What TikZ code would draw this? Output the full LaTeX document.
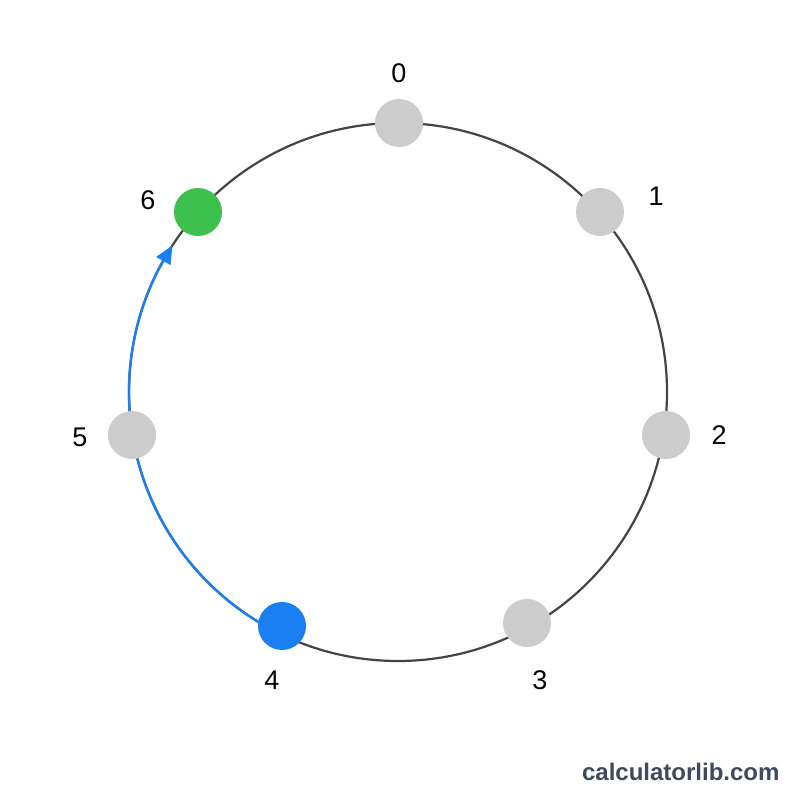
\documentclass[tikz,border=0pt]{standalone}
\usepackage{fontspec}
\setmainfont{Liberation Sans}
\usetikzlibrary{arrows.meta,calc}
\definecolor{dotgray}{HTML}{CCCCCC}
\definecolor{dotblue}{HTML}{1A7FF0}
\definecolor{dotgreen}{HTML}{3CC14E}
\definecolor{ringgray}{HTML}{444444}
\definecolor{wm}{HTML}{3D4A5C}
\begin{document}
\begin{tikzpicture}[x=1pt,y=1pt,
  dot/.style={circle,minimum size=48pt,inner sep=0pt},
  lbl/.style={font=\fontsize{27}{27}\selectfont}]
\useasboundingbox[fill=white] (0,0) rectangle (800,800);
\coordinate (c) at (398,408);
\draw[ringgray,line width=2.2pt] (c) circle[radius=269];
\draw[dotblue,line width=2.4pt] (c) ++(243.6:269) arc[start angle=243.6,end angle=153,radius=269] coordinate (ae);
\coordinate (at) at ($(c)+(147:269)$);
\draw[dotblue,line width=2.4pt,-{Triangle[length=18pt,width=16pt]}] (ae) -- (at);
\node[dot,fill=dotgray] (n0) at (399,677) {};
\node[dot,fill=dotgray] (n1) at (600,588) {};
\node[dot,fill=dotgray] (n2) at (666,365) {};
\node[dot,fill=dotgray] (n3) at (527,177) {};
\node[dot,fill=dotblue] (n4) at (282,174) {};
\node[dot,fill=dotgray] (n5) at (132,365) {};
\node[dot,fill=dotgreen] (n6) at (198,588) {};
\node[lbl] (l0) at (399,727) {0};
\node[lbl] (l1) at (656,604) {1};
\node[lbl] (l2) at (719,365) {2};
\node[lbl] (l3) at (540,120) {3};
\node[lbl] (l4) at (272,120) {4};
\node[lbl] (l5) at (80,363) {5};
\node[lbl] (l6) at (148,600) {6};
\node[anchor=east,text=wm,font=\bfseries\fontsize{24}{24}\selectfont] (wmk) at (783,28) {calculatorlib.com};
\end{tikzpicture}
\end{document}
